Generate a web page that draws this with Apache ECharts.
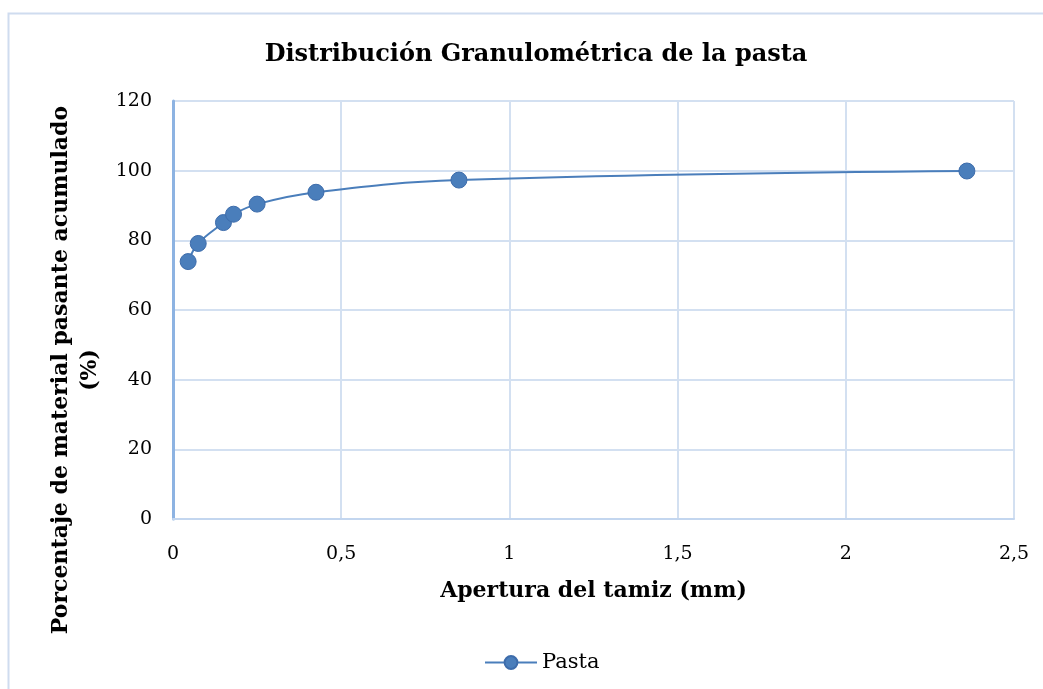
<!DOCTYPE html>
<html>
<head>
<meta charset="utf-8">
<script src="https://cdn.jsdelivr.net/npm/echarts@6/dist/echarts.min.js"></script>
<style>
  html, body { margin: 0; padding: 0; background: #ffffff; }
  #chart { width: 1043px; height: 689px; }
</style>
</head>
<body>
<div id="chart"></div>
<script>
// Tamiz opening (mm) and cumulative passing percentage
const aperturas = [0.045, 0.075, 0.15, 0.18, 0.25, 0.425, 0.85, 2.36];
const pasante = [73.9, 79.1, 85.1, 87.5, 90.4, 93.8, 97.3, 99.9];
const serieNombre = 'Pasta';

const FONT = 'DejaVu Serif';
const AZUL = '#4a7ebb';
const REJILLA = '#d3e0f1';

const chart = echarts.init(document.getElementById('chart'));
chart.setOption({
  backgroundColor: '#ffffff',
  animation: false,
  graphic: [{
    type: 'rect',
    shape: { x: 8.5, y: 13.5, width: 1060, height: 700 },
    style: { fill: 'none', stroke: '#cfdcef', lineWidth: 2 },
    silent: true
  }],
  title: {
    text: 'Distribución Granulométrica de la pasta',
    left: 531, top: 38, textAlign: 'center',
    textStyle: { fontFamily: FONT, fontSize: 24, fontWeight: 'bold', color: '#000' }
  },
  legend: {
    data: [serieNombre],
    top: 647,
    left: 479,
    itemWidth: 52, itemHeight: 16, itemGap: 8,
    textStyle: { fontFamily: FONT, fontSize: 21, color: '#000' }
  },
  grid: { left: 173, right: 29, top: 101, bottom: 170, outerBoundsMode: 'none', containLabel: false },
  xAxis: {
    type: 'value', min: 0, max: 2.5, interval: 0.5,
    name: 'Apertura del tamiz (mm)',
    nameLocation: 'middle', nameGap: 61,
    nameTextStyle: { fontFamily: FONT, fontSize: 22, fontWeight: 'bold', color: '#000' },
    axisLine: { show: true, onZero: false, lineStyle: { color: '#c3d6ef', width: 2 } },
    axisTick: { show: false },
    splitLine: { show: true, lineStyle: { color: REJILLA, width: 2 } },
    axisLabel: {
      fontFamily: FONT, fontSize: 19, color: '#000', margin: 26,
      formatter: v => String(v).replace('.', ',')
    }
  },
  yAxis: {
    type: 'value', min: 0, max: 120, interval: 20,
    name: 'Porcentaje de material pasante acumulado\n(%)',
    nameLocation: 'middle', nameGap: 68, nameRotate: 90,
    nameTextStyle: {
      fontFamily: FONT, fontSize: 22, fontWeight: 'bold', color: '#000',
      lineHeight: 29, align: 'center', padding: [0, 120, 0, 0]
    },
    axisLine: { show: true, lineStyle: { color: '#8db3e2', width: 3 } },
    axisTick: { show: false },
    splitLine: { show: true, lineStyle: { color: REJILLA, width: 2 } },
    axisLabel: { fontFamily: FONT, fontSize: 19, color: '#000', margin: 21 }
  },
  series: [{
    name: serieNombre,
    type: 'line',
    smooth: 0.4,
    data: aperturas.map((x, i) => [x, pasante[i]]),
    symbol: 'circle',
    symbolSize: 16,
    lineStyle: { color: AZUL, width: 2 },
    itemStyle: { color: AZUL, borderColor: '#3d6cab', borderWidth: 1 }
  }]
});
</script>
</body>
</html>
